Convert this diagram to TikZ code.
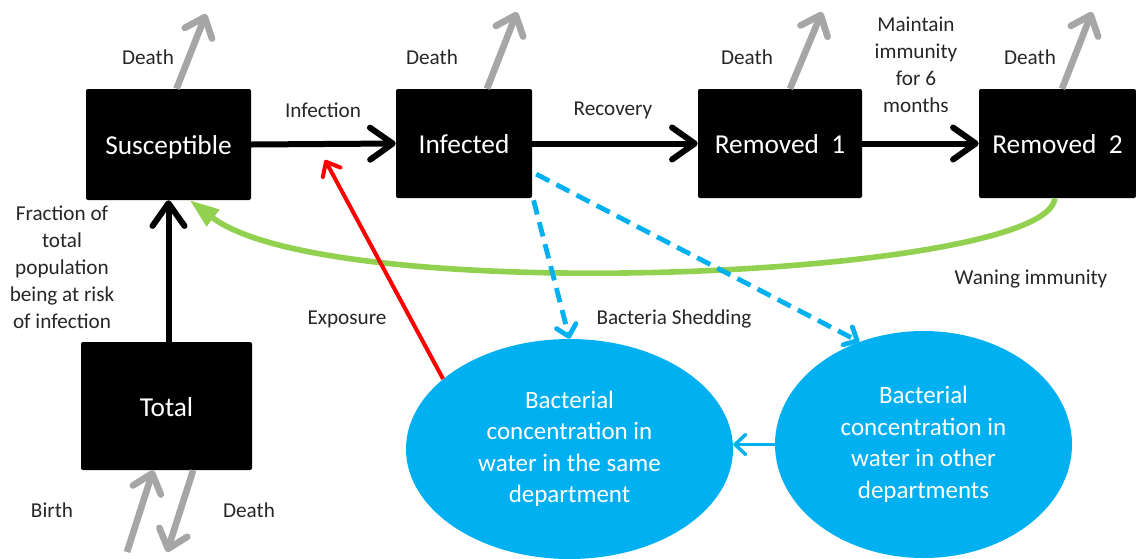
\documentclass[tikz,border=0pt]{standalone}
\usepackage{fontspec}
\setmainfont{Carlito}
\usetikzlibrary{arrows.meta,shapes.geometric,calc}
\definecolor{blk}{HTML}{000000}
\definecolor{gry}{HTML}{A6A6A6}
\definecolor{sky}{HTML}{00B0F0}
\definecolor{grn}{HTML}{92D050}
\definecolor{lbl}{HTML}{262626}
\tikzset{
  box/.style={fill=blk, text=white, rounded corners=1.5pt, inner sep=0pt,
    text height=15pt, text depth=0pt,
    font=\fontsize{20.5}{24}\selectfont},
  pool/.style={ellipse, fill=sky, text=white, inner sep=0pt, align=center,
    font=\fontsize{18.75}{23.6}\selectfont},
  lab/.style={text=lbl, inner sep=0pt, align=center,
    font=\fontsize{15.9}{20.2}\selectfont},
  flow/.style={line width=4.5pt, draw=blk, line cap=round,
    -{Straight Barb[length=17pt, width=24pt, line width=4.5pt, round]}},
  death/.style={line width=5pt, draw=gry,
    -{Straight Barb[length=13pt, width=22pt, line width=5pt, round]}},
  shed/.style={line width=3.6pt, draw=sky, dash pattern=on 11pt off 6pt,
    -{Straight Barb[length=8pt, width=15pt, line width=3.6pt, round]}},
  expo/.style={line width=3pt, draw=red,
    -{Straight Barb[length=9pt, width=15pt, line width=3pt, round]}},
  link/.style={line width=2.6pt, draw=sky,
    -{Straight Barb[length=8pt, width=15pt, line width=2.6pt, round]}},
  wane/.style={line width=4.2pt, draw=grn,
    -{Triangle[length=22pt, width=15pt]}}
}
\begin{document}
\begin{tikzpicture}[x=0.75pt, y=-0.75pt]
\useasboundingbox (0,0) rectangle (1136,558);

% boxes
\node[box, minimum width=123.75pt, minimum height=83.25pt] (S) at (168.5,144.5) {Susceptible};
\node[box, minimum width=102pt, minimum height=81.75pt] (I) at (464,143.5) {Infected};
\node[box, minimum width=123pt, minimum height=81.75pt] (R1) at (780,143.5) {Removed\ \ 1};
\node[box, minimum width=117.75pt, minimum height=81.75pt] (R2) at (1057.5,143.5) {Removed\ \ 2};
\node[box, minimum width=128.25pt, minimum height=96pt] (T) at (166.5,406) {Total};

% ellipses
\node[pool, minimum width=245.25pt, minimum height=165pt] (E1) at (569.5,449)
  {Bacterial\\concentration in\\water in the same\\department};
\node[pool, minimum width=222.75pt, minimum height=170.25pt] (E2) at (923.5,444.5)
  {Bacterial\\concentration in\\water in other\\departments};

% free ends
\coordinate (dS) at (206,14);
\coordinate (dI) at (517,12);
\coordinate (dR1) at (822,12);
\coordinate (dR2) at (1092,12);
\coordinate (bIn) at (127,552);
\coordinate (bOut) at (167,552);
\coordinate (xp) at (325,160);

% main flows
\draw[flow] (S.east) -- (I.west);
\draw[flow] (I.east) -- (R1.west);
\draw[flow] (R1.east) -- (R2.west);
\draw[flow] (T.north -| S.south) -- (S.south);

% deaths
\draw[death] ([xshift=6pt]S.north) -- (dS);
\draw[death] ([xshift=17.25pt]I.north) -- (dI);
\draw[death] ([xshift=7.5pt]R1.north) -- (dR1);
\draw[death] ([xshift=3.4pt]R2.north) -- (dR2);
\draw[death] (bIn) -- ([xshift=-10pt]T.south);
\draw[death] ([xshift=20pt]T.south) -- (bOut);

% waning immunity
\draw[wane] ([xshift=-2pt]R2.south) .. controls +(-7.5,80) and +(141,108) .. ([xshift=16pt]S.south);

% exposure
\draw[expo] (E1.151) -- (xp);

% shedding
\draw[shed] ([xshift=1pt,yshift=-1.5pt]I.south east) -- (E1.north);
\draw[shed] ([xshift=3pt,yshift=-23pt]I.east) -- (E2.122.7);
\draw[link] (E2.west) -- (E2.west -| E1.east);

% labels
\node[lab] (l1) at (148,57) {Death};
\node[lab] (l2) at (432,57) {Death};
\node[lab] (l3) at (747,57) {Death};
\node[lab] (l4) at (1030,57) {Death};
\node[lab] (l5) at (323,110) {Infection};
\node[lab] (l6) at (613,110) {Recovery};
\node[lab] (l7) at (916,65) {Maintain\\immunity\\for 6\\months};
\node[lab] (l8) at (62,267) {Fraction of\\total\\population\\being at risk\\of infection};
\node[lab] (l9) at (347,319) {Exposure};
\node[lab] (l10) at (674,319) {Bacteria Shedding};
\node[lab] (l11) at (1031,279) {Waning immunity};
\node[lab] (l12) at (52,510) {Birth};
\node[lab] (l13) at (249,510) {Death};
\end{tikzpicture}
\end{document}
